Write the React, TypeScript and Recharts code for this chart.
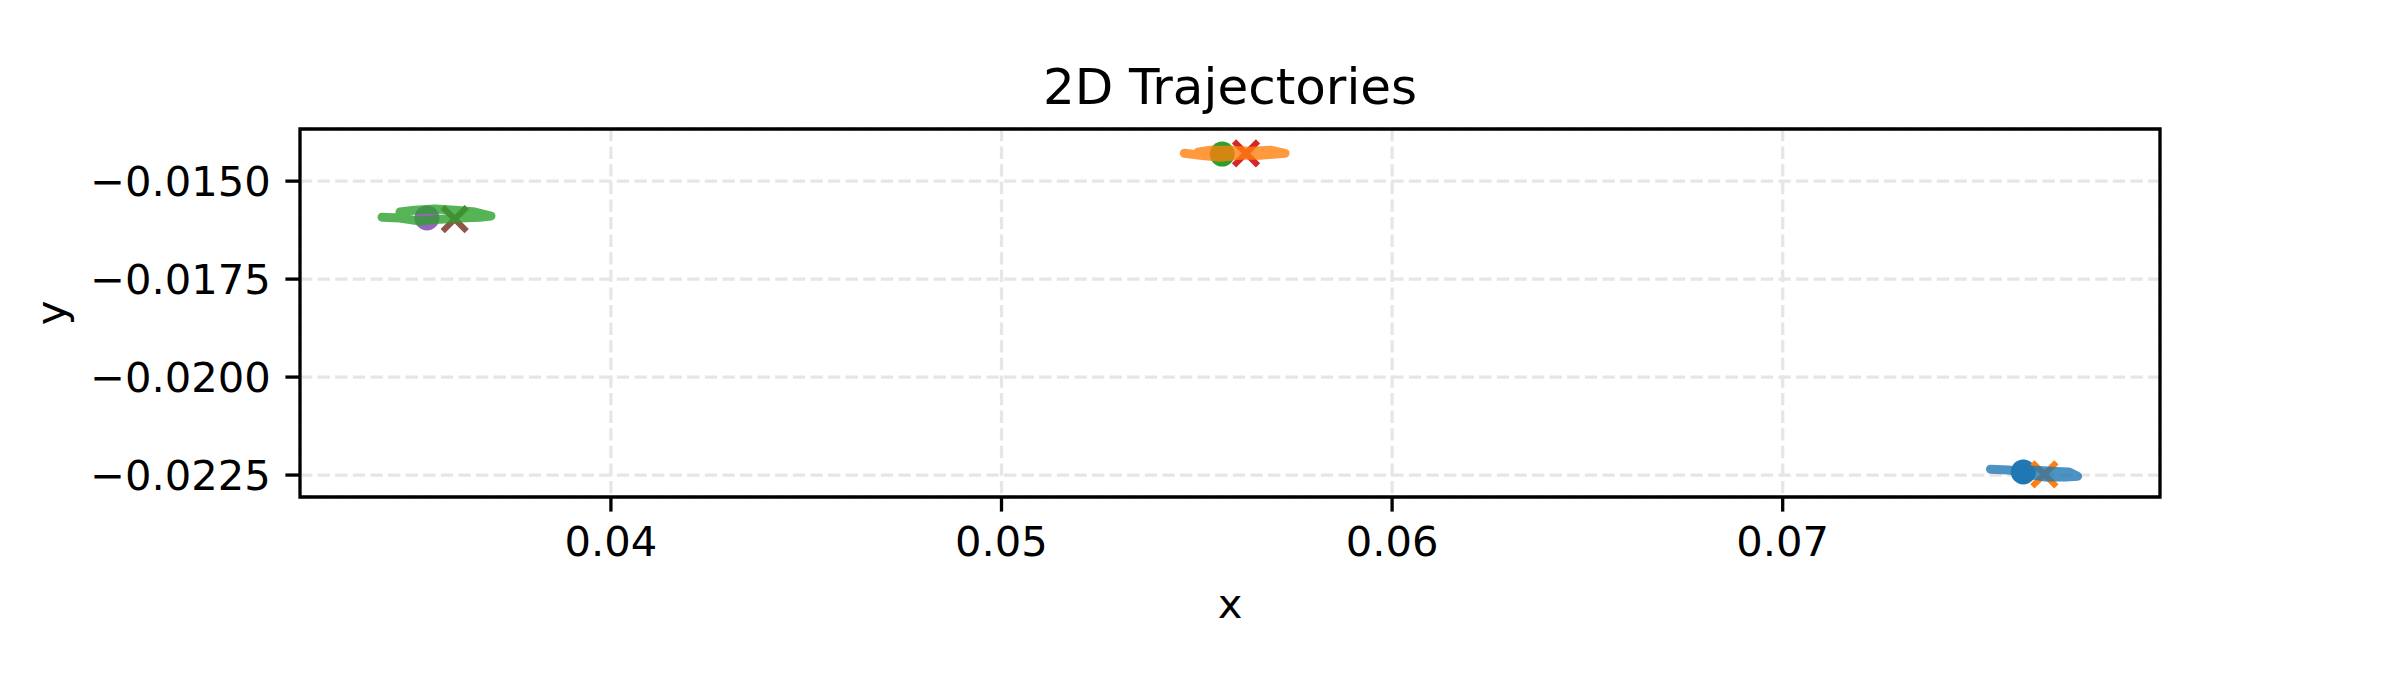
import { ScatterChart, Scatter, XAxis, YAxis, CartesianGrid, ReferenceArea } from "recharts";

// trajectories (x, y in data units); each wanders back and forth
const traj0 = [
  { x: 0.07532, y: -0.02235 },
  { x: 0.07578, y: -0.02237 },
  { x: 0.07622, y: -0.02247 },
  { x: 0.07673, y: -0.02255 },
  { x: 0.07724, y: -0.02255 },
  { x: 0.07755, y: -0.02253 },
  { x: 0.07732, y: -0.02242 },
  { x: 0.07686, y: -0.0224 },
  { x: 0.07635, y: -0.02237 },
  { x: 0.07596, y: -0.02242 },
];
const traj1 = [
  { x: 0.05468, y: -0.01429 },
  { x: 0.05509, y: -0.01434 },
  { x: 0.0556, y: -0.01439 },
  { x: 0.05611, y: -0.01434 },
  { x: 0.05662, y: -0.01434 },
  { x: 0.05726, y: -0.01429 },
  { x: 0.05688, y: -0.01421 },
  { x: 0.05637, y: -0.01424 },
  { x: 0.05585, y: -0.01421 },
  { x: 0.05534, y: -0.01421 },
  { x: 0.05503, y: -0.01426 },
];
const traj2 = [
  { x: 0.03414, y: -0.01592 },
  { x: 0.0346, y: -0.01594 },
  { x: 0.03511, y: -0.01602 },
  { x: 0.03562, y: -0.01597 },
  { x: 0.03613, y: -0.01594 },
  { x: 0.03665, y: -0.01592 },
  { x: 0.03693, y: -0.01589 },
  { x: 0.03652, y: -0.01579 },
  { x: 0.03601, y: -0.01574 },
  { x: 0.03549, y: -0.01571 },
  { x: 0.03498, y: -0.01574 },
  { x: 0.0346, y: -0.01579 },
];

const starts = [
  [{ x: 0.07616, y: -0.02242 }],
  [{ x: 0.05565, y: -0.01431 }],
  [{ x: 0.03529, y: -0.01594 }],
];
const ends = [
  [{ x: 0.0767, y: -0.02248 }],
  [{ x: 0.05626, y: -0.01429 }],
  [{ x: 0.036, y: -0.01597 }],
];

const lineColors = ["#1f77b4", "#ff7f0e", "#2ca02c"];
const startColors = ["#1f77b4", "#2ca02c", "#9467bd"];
const endColors = ["#ff7f0e", "#d62728", "#8c564b"];

const xTicks = [0.04, 0.05, 0.06, 0.07];
const yTicks = [-0.0225, -0.02, -0.0175, -0.015];
const xDomain = [0.03204, 0.07966];
const yDomain = [-0.02306, -0.01367];

const FONT = "DejaVu Sans, Verdana, sans-serif";
const fmtY = (v: number) => (v < 0 ? "\u2212" : "") + Math.abs(v).toFixed(4);
const fmtX = (v: number) => v.toFixed(2);

const circleShape = (color: string) => (props: any) =>
  <circle cx={props.cx} cy={props.cy} r={12.5} fill={color} />;

const crossShape = (color: string) => (props: any) => {
  const s = 12;
  return (
    <g stroke={color} strokeWidth={6}>
      <line x1={props.cx - s} y1={props.cy - s} x2={props.cx + s} y2={props.cy + s} />
      <line x1={props.cx - s} y1={props.cy + s} x2={props.cx + s} y2={props.cy - s} />
    </g>
  );
};

const noShape = () => <g />;

export default function App() {
  const trajs = [traj0, traj1, traj2];
  return (
    <div style={{ position: "absolute", left: 0, top: 0, width: 2400, height: 686, background: "#fff" }}>
      <ScatterChart width={2400} height={686} margin={{ top: 129, right: 240, bottom: 0, left: 0 }}>
        <CartesianGrid stroke="#e6e6e6" strokeWidth={3.3} strokeDasharray="12.3 5.3" />
        <XAxis
          type="number"
          dataKey="x"
          domain={xDomain}
          allowDataOverflow
          ticks={xTicks}
          interval={0}
          tickFormatter={fmtX}
          height={189}
          axisLine={false}
          tickSize={14.6}
          tickMargin={14.6}
          tickLine={{ stroke: "#000", strokeWidth: 3.3 }}
          tick={{ fill: "#000", fontSize: 41.67, fontFamily: FONT }}
        />
        <YAxis
          type="number"
          dataKey="y"
          domain={yDomain}
          allowDataOverflow
          ticks={yTicks}
          interval={0}
          tickFormatter={fmtY}
          width={300}
          axisLine={false}
          tickSize={14.6}
          tickMargin={14.6}
          tickLine={{ stroke: "#000", strokeWidth: 3.3 }}
          tick={{ fill: "#000", fontSize: 41.67, fontFamily: FONT }}
        />
        {starts.map((d, i) => (
          <Scatter key={"s" + i} data={d} shape={circleShape(startColors[i])} isAnimationActive={false} />
        ))}
        {ends.map((d, i) => (
          <Scatter key={"e" + i} data={d} shape={crossShape(endColors[i])} isAnimationActive={false} />
        ))}
        {trajs.map((d, i) => (
          <Scatter
            key={"t" + i}
            data={d}
            line={{ stroke: lineColors[i], strokeWidth: 9, strokeOpacity: 0.8, strokeLinejoin: "round", strokeLinecap: "round" }}
            shape={noShape}
            isAnimationActive={false}
          />
        ))}
        <ReferenceArea
          x1={xDomain[0]}
          x2={xDomain[1]}
          y1={yDomain[0]}
          y2={yDomain[1]}
          fill="none"
          fillOpacity={0}
          stroke="#000"
          strokeWidth={3.3}
        />
      </ScatterChart>
      <svg width={2400} height={686} style={{ position: "absolute", left: 0, top: 0, pointerEvents: "none" }}>
        <text x={1230} y={104} textAnchor="middle" fontSize={50} fontFamily={FONT} fill="#000">
          2D Trajectories
        </text>
        <text x={1230} y={618} textAnchor="middle" fontSize={41.67} fontFamily={FONT} fill="#000">
          x
        </text>
        <text x={65} y={313} transform="rotate(-90, 65, 313)" textAnchor="middle" fontSize={41.67} fontFamily={FONT} fill="#000">
          y
        </text>
      </svg>
    </div>
  );
}
